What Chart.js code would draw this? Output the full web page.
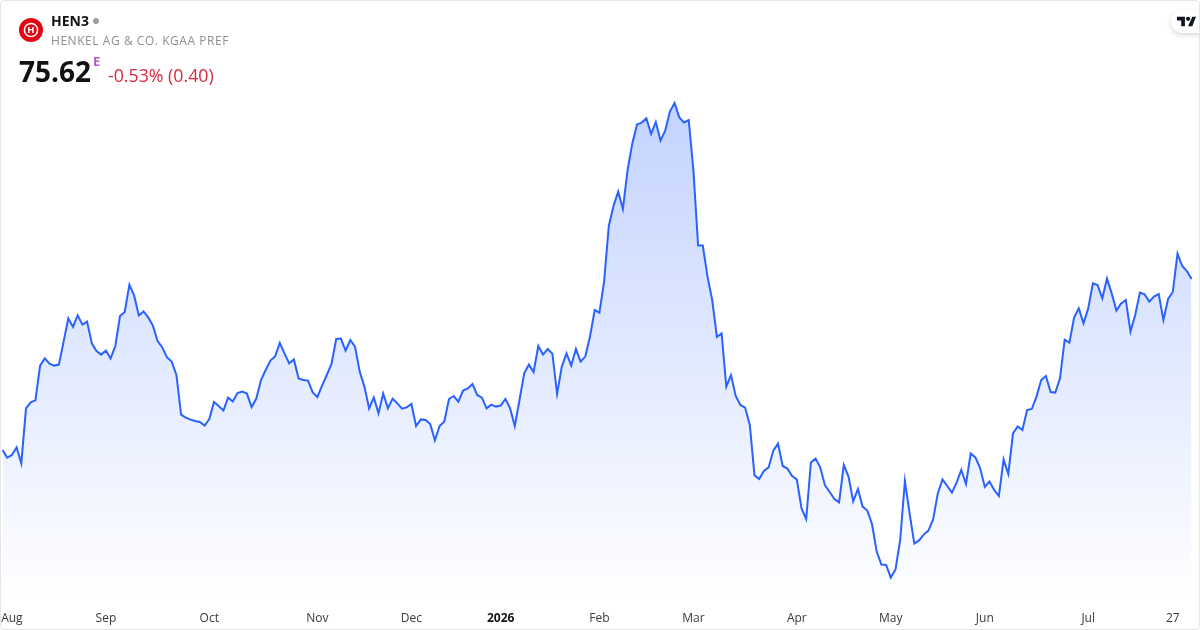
<!DOCTYPE html>
<html>
<head>
<meta charset="utf-8">
<script src="https://cdn.jsdelivr.net/npm/chart.js@4"></script>
<style>
html,body{margin:0;padding:0;background:#fff;width:1200px;height:630px;overflow:hidden}
#frame{position:absolute;left:0;top:0;width:1198px;height:628px;border:1px solid #e6e6e6;border-radius:4px;pointer-events:none;z-index:3}
canvas{position:absolute;left:0;top:0}
.t{position:absolute;white-space:nowrap;font-family:"Open Sans",sans-serif;z-index:2}
#sym{left:51px;top:11px;font-size:14px;font-weight:700;color:#131313;line-height:20px}
#dot{position:absolute;left:93px;top:18px;width:6px;height:6px;border-radius:50%;background:#9a9ea8;z-index:2}
#name{left:51px;top:32px;font-size:12px;color:#8f8f8f;line-height:18px;letter-spacing:.55px}
#price{left:19px;top:52px;font-size:28px;font-weight:700;color:#111;line-height:38px}
#ext{left:93px;top:54px;font-size:13px;font-weight:700;color:#b45cc6;line-height:15px}
#chg{left:108px;top:62.5px;font-size:17.75px;color:#d9293f;line-height:24px}
#logo{position:absolute;left:19px;top:18px;z-index:2}
#tv{position:absolute;left:1171px;top:10px;width:40px;height:23px;background:#fff;border-radius:12px;box-shadow:0 2px 5px rgba(0,0,0,.16);z-index:2}
#tv svg{position:absolute;left:6px;top:5px}
</style>
</head>
<body>
<canvas id="c" width="1200" height="630"></canvas>
<div id="frame"></div>
<svg id="logo" width="24" height="24" viewBox="0 0 24 24">
  <circle cx="12" cy="12" r="12" fill="#e30613"/>
  <circle cx="12" cy="12" r="6.6" fill="none" stroke="#fff" stroke-width="1.5"/>
  <text x="12" y="15.3" text-anchor="middle" font-family="Open Sans" font-weight="700" font-size="9.5" fill="#fff">H</text>
</svg>
<div class="t" id="sym">HEN3</div>
<div id="dot"></div>
<div class="t" id="name">HENKEL AG &amp; CO. KGAA PREF</div>
<div class="t" id="price">75.62</div>
<div class="t" id="ext">E</div>
<div class="t" id="chg">-0.53% (0.40)</div>
<div id="tv"><svg width="19" height="13" viewBox="0 0 36 24"><path fill="#131722" d="M15 21H8V10H0V3h15v18zM29 21h-8l8-18h7l-7 18z"/><circle cx="21" cy="7" r="4" fill="#131722"/></svg></div>
<script>
const priceValues = [
67.07,66.69,66.82,67.20,66.40,69.15,69.45,69.55,71.29,71.65,71.39,71.29,71.34,72.49,73.65,73.22,
73.80,73.34,73.49,72.40,72.02,71.84,72.04,71.65,72.27,73.77,73.97,75.34,74.80,73.80,74.00,73.70,
73.29,72.52,72.20,71.70,71.49,70.82,68.84,68.69,68.59,68.52,68.47,68.29,68.62,69.47,69.27,69.05,
69.69,69.50,69.92,69.99,69.89,69.22,69.64,70.57,71.07,71.54,71.75,72.42,71.90,71.40,71.60,70.65,
70.57,70.54,69.95,69.72,70.29,70.82,71.37,72.62,72.64,72.04,72.57,72.24,70.99,70.24,69.15,69.70,
68.90,69.89,69.15,69.64,69.40,69.14,69.20,69.37,68.27,68.60,68.57,68.37,67.55,68.27,68.50,69.62,
69.77,69.49,70.04,70.15,70.37,69.82,69.69,69.15,69.34,69.24,69.29,69.62,69.15,68.27,69.57,70.90,
71.34,70.97,72.27,71.84,72.12,71.89,69.87,71.24,71.90,71.29,72.12,71.49,71.74,72.74,
74.07,73.94,75.49,78.27,79.27,79.99,79.12,81.07,82.40,83.35,83.44,83.65,82.87,83.47,82.54,83.04,
83.99,84.42,83.70,83.45,83.57,81.07,77.29,77.29,75.74,74.57,72.72,72.90,70.24,70.82,69.77,69.32,69.19,
68.32,65.80,65.62,66.02,66.20,67.04,67.39,66.27,66.14,65.77,65.60,64.15,63.62,66.45,66.64,66.19,
65.30,64.97,64.62,64.45,66.32,65.74,64.50,65.12,64.24,64.04,63.37,61.99,61.34,61.32,60.69,61.10,
62.57,65.52,63.90,62.39,62.55,62.84,63.04,63.60,64.90,65.60,65.27,64.94,65.44,
66.07,65.37,66.90,66.70,66.17,65.22,65.49,65.07,64.77,66.60,65.87,67.90,68.25,68.07,69.07,69.12,
69.74,70.57,70.77,69.97,69.94,70.65,72.59,72.44,73.69,74.15,73.40,74.15,75.40,75.32,74.65,75.64,
74.90,74.04,74.40,74.57,72.99,73.82,74.94,74.85,74.49,74.74,74.87,73.57,74.62,74.97,76.89,76.27,76.02,75.62
];
const tickIndexes = [2,22,44,67,87,106,127,147,169,189,209,231,249];
const tickLabels = ["Aug","Sep","Oct","Nov","Dec","2026","Feb","Mar","Apr","May","Jun","Jul","27"];
const categories = priceValues.map((_, i) => {
  const k = tickIndexes.indexOf(i);
  return k >= 0 ? tickLabels[k] : "";
});
const yMin = 59.47, yMax = 89.57, peakValue = 84.42;

new Chart(document.getElementById("c"), {
  type: "line",
  data: {
    labels: categories,
    datasets: [{
      data: priceValues,
      borderColor: "#2962ff",
      borderWidth: 2,
      pointRadius: 0,
      tension: 0,
      fill: "start",
      backgroundColor(ctx) {
        const { chart } = ctx;
        if (!chart.chartArea) return "rgba(41,98,255,0.1)";
        const y = chart.scales.y;
        const g = chart.ctx.createLinearGradient(0, y.getPixelForValue(peakValue), 0, chart.chartArea.bottom);
        g.addColorStop(0, "rgba(41,98,255,0.28)");
        g.addColorStop(1, "rgba(41,98,255,0)");
        return g;
      }
    }]
  },
  options: {
    responsive: false,
    animation: false,
    devicePixelRatio: 1,
    layout: { padding: { left: 2.5, right: 8.4, top: 0, bottom: 0 } },
    plugins: { legend: { display: false }, tooltip: { enabled: false } },
    scales: {
      y: { display: false, min: yMin, max: yMax },
      x: {
        afterFit(s) { s.height = 28; s.paddingLeft = 0; s.paddingRight = 0; },
        grid: { display: false, drawTicks: false },
        border: { display: false },
        ticks: {
          autoSkip: false, maxRotation: 0, minRotation: 0, padding: 9,
          color: (c) => c.tick && c.tick.label === "2026" ? "#131313" : "#3a3a3a",
          font: (c) => ({ family: "Open Sans", size: 12, weight: c.tick && c.tick.label === "2026" ? "700" : "400" })
        }
      }
    }
  }
});
</script>
</body>
</html>
